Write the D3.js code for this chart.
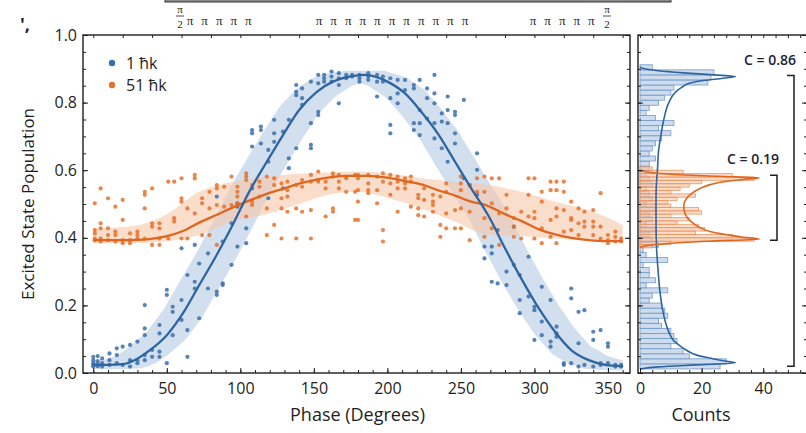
<!DOCTYPE html>
<html>
<head>
<meta charset="utf-8">
<title>Excited state population vs phase</title>
<script src="https://d3js.org/d3.v7.min.js"></script>
<style>
  body { margin: 0; background: #fff; }
  svg { display: block; font-family: "Open Sans", sans-serif; }
</style>
</head>
<body>
<div id="chart"></div>
<script>
// ---- data ----
// scatter: [phase (deg), [populations at that phase]]
var blueCols = [
  [0,[.048,.038,.029,.024,.019]], [3,[.05,.035,.025,.02]], [6,[.043,.029,.019]],
  [11,[.058,.038,.024]], [16,[.073,.053,.029]], [20,[.078,.024]], [25,[.083,.038,.019]],
  [30,[.093,.038,.029]], [35,[.201,.132,.112,.053,.038]], [40,[.068,.048]],
  [45,[.142,.117,.063,.048]], [50,[.246,.231,.029]], [54,[.196,.181,.112]],
  [60,[.216,.157,.369]], [64,[.29,.127,.048]], [69,[.379,.27,.25]], [72,[.324,.162]],
  [78,[.354,.25]], [84,[.522,.241,.231]], [88,[.389,.265,.26]], [94,[.443,.32]],
  [98,[.502,.492,.374]], [104,[.428,.384]], [108,[.709,.719,.67,.546]],
  [114,[.729,.719,.679]], [119,[.66,.625,.517]], [123,[.749,.709,.684]],
  [129,[.714,.546]], [133,[.749,.635,.606]], [138,[.852,.832,.822,.665]],
  [142,[.842,.813,.793]], [148,[.862,.739,.675,.665]], [153,[.882,.857,.773,.763]],
  [157,[.882,.872,.862]], [162,[.892,.877,.862]], [167,[.887,.872,.852,.798]],
  [172,[.882,.872]], [176,[.882,.877]], [181,[.882,.872,.862]], [187,[.887,.877,.867]],
  [193,[.882,.862,.818]], [197,[.877,.862]], [202,[.872,.813,.734,.709]],
  [207,[.867,.827,.798]], [212,[.867,.837]], [218,[.852,.842,.739,.719]],
  [222,[.867,.778,.739,.704]], [227,[.842,.813,.753]], [232,[.882,.827,.798,.739,.694]],
  [237,[.768,.744,.665]], [241,[.818,.778,.739,.625]], [246,[.773,.763,.709,.679]],
  [252,[.808,.576]], [256,[.556]], [261,[.65,.601,.527]], [266,[.339,.374]],
  [271,[.374,.354,.27]], [275,[.265,.423]], [281,[.3,.26]], [286,[.433,.32]],
  [290,[.29,.216,.177]], [296,[.344,.226]], [300,[.196,.186,.098]],
  [305,[.255,.152,.112]], [311,[.216,.093,.078]], [315,[.137,.117,.107]],
  [320,[.029,.024]], [325,[.25,.221,.029]], [330,[.181,.088,.019]], [334,[.186,.024]],
  [340,[.122,.098,.019]], [345,[.127,.029,.024]], [350,[.088,.078,.029]],
  [355,[.024,.019]], [359,[.019,.024]]
];
var orangeCols = [
  [1,[.502,.423,.413,.398,.393]], [5,[.546,.443,.428,.398,.389]], [10,[.517,.428,.408,.393]],
  [15,[.492,.418,.408,.389]], [20,[.512,.453,.393,.384]], [25,[.413,.393,.384]],
  [30,[.418,.408,.398]], [35,[.536,.527,.487,.398]], [40,[.546,.443,.433,.379]],
  [45,[.443,.428,.398,.379]], [51,[.566,.398]], [55,[.566,.458,.448]],
  [60,[.576,.517,.507,.398]], [64,[.487,.398]], [69,[.586,.576,.472]],
  [74,[.517,.502,.408]], [79,[.536,.487,.408]], [84,[.556,.546,.497,.379]],
  [89,[.551,.492]], [94,[.581,.497]], [98,[.551,.536,.522,.502]],
  [104,[.591,.581,.571,.463]], [108,[.556,.507,.497]], [113,[.566,.551,.522]],
  [118,[.581,.487,.408]], [123,[.576,.556,.438]], [128,[.561,.517,.487,.398]],
  [132,[.566,.541,.522,.477]], [138,[.556,.487,.398]], [142,[.571,.551,.477]],
  [148,[.586,.566,.482,.398]], [153,[.596,.571,.566]], [158,[.566,.546,.463]],
  [163,[.591,.581,.487,.477]], [167,[.586,.566,.546]], [172,[.581,.576,.536]],
  [178,[.586,.536,.453]], [180,[.586,.576,.541,.507,.453]], [187,[.586,.561,.541,.532]],
  [193,[.581,.541,.502]], [197,[.591,.566,.423,.389]], [202,[.586,.561,.527]],
  [207,[.581,.566,.546,.477]], [212,[.576,.561,.546]], [216,[.581,.566,.492]],
  [221,[.527,.517,.487,.467]], [225,[.546,.512,.463]], [231,[.527,.507,.497,.477]],
  [236,[.522,.438,.403]], [240,[.561,.536,.472,.428]], [246,[.482,.428]],
  [250,[.581,.561,.541,.487,.428]], [256,[.556,.477,.393]], [261,[.576,.536]],
  [266,[.581,.536,.458,.403]], [271,[.576,.502,.428]], [276,[.576,.472,.379]],
  [281,[.527,.487]], [286,[.458,.433,.403]], [291,[.477,.398]], [296,[.576,.527,.463]],
  [300,[.576,.477,.458,.398]], [305,[.536,.507,.428,.384]], [311,[.566,.541,.453,.403]],
  [315,[.566,.541,.487,.463,.384]], [320,[.566,.536,.482,.418]], [325,[.507,.458,.453,.423]],
  [330,[.487,.443,.408]], [334,[.477,.448,.433]], [340,[.482,.448,.433,.408]],
  [345,[.532,.433,.398]], [350,[.408,.393,.384]], [355,[.418,.403,.389]], [359,[.398,.389]]
];

// fitted curves
var blueFitPhase = [0,10,20,29,38,50,61,72,84,95,106,118,129,140,152,163,174,185,200,212,223,235,246,257,269,280,291,303,314,325,337,348,360];
var blueFitPop = [.025,.024,.026,.04,.066,.112,.177,.26,.35,.44,.536,.625,.704,.778,.832,.862,.877,.882,.862,.827,.773,.704,.625,.546,.463,.369,.28,.191,.122,.068,.038,.024,.02];
var orangeFitPhase = [0,15,30,38,50,61,72,84,95,106,118,129,140,152,163,174,185,200,212,223,235,246,257,266,280,291,303,314,325,337,348,360];
var orangeFitPop = [.393,.393,.394,.396,.405,.42,.445,.468,.49,.51,.53,.545,.56,.572,.58,.583,.583,.578,.568,.558,.54,.525,.507,.498,.47,.45,.425,.41,.4,.393,.39,.39];

// orange uncertainty band
var orangeBandPhase = [0,27,50,72,95,118,140,163,180,201,223,246,269,291,314,337,360];
var orangeBandLo = [.384,.384,.39,.408,.448,.47,.5,.53,.536,.517,.487,.448,.408,.405,.398,.393,.393];
var orangeBandHi = [.428,.435,.47,.536,.566,.58,.59,.594,.596,.59,.576,.566,.556,.536,.507,.482,.438];
var bluePhaseErr = 13; // deg, half width of blue band

// histograms
var blueBinStart = 0.012, blueBinWidth = 0.015;
var blueCounts = [26,28,16,14,10,12,11,10,7,6,9,8,7,3,4,9,2,5,3,3,1,9,2,1,
  6,4,3,5,2,4,3,5,2,4,3,2,4,3,2,3,
  3,5,3,4,5,7,10,6,11,5,2,3,6,8,10,11,22,23,24,4];
var orangeBinStart = 0.37, orangeBinWidth = 0.01;
var orangeCounts = [4,10,37,30,18,21,19,12,16,10,20,19,10,9,12,18,10,13,16,20,37,30,14,4];

var blueHistFitPop = [.012,.018,.024,.03,.036,.043,.05,.058,.068,.079,.095,.118,.14,.167,.2,.265,.3,.364,.45,.52,.556,.606,.655,.704,.753,.803,.832,.845,.857,.866,.872,.877,.882,.888,.894,.9,.905];
var blueHistFitCount = [0,6,18,31,27,23.4,19.5,17,15,13.2,11,9.5,8.6,7.8,7.1,6.2,5.9,5.4,5.2,5.2,5.3,5.7,6,6.8,7.8,9.5,11.6,13.5,16,21,27,31,24,14,6,1.5,0];
var orangeHistFitPop = [.372,.378,.384,.39,.396,.402,.408,.418,.43,.447,.46,.472,.49,.502,.515,.531,.548,.558,.566,.572,.577,.582,.588,.594,.6];
var orangeHistFitCount = [0,3,10,22,38.7,33,29,23,19.5,16.7,15.3,14.6,14.2,14.3,15,16.7,20,23,27,33,38.7,25,10,3,0];

var seriesNames = ["1 \u0127k", "51 \u0127k"];
var contrastLabels = ["C = 0.86", "C = 0.19"];
var contrastRanges = [[.02, .88], [.393, .585]];

var xTicks = [0,50,100,150,200,250,300,350];
var yTicks = [0,.2,.4,.6,.8,1];
var countTicks = [0,20,40];

// ---- layout ----
var W = 806, H = 433;
var blue = "#3a6fa9", orange = "#e5712b";
var ink = "#1e1e1e";

var svg = d3.select("#chart").append("svg").attr("width", W).attr("height", H);

var x = d3.scaleLinear().domain([-7, 365]).range([83, 630]);
var y = d3.scaleLinear().domain([0, 1]).range([373, 35]);
var xc = d3.scaleLinear().domain([0, 54.2]).range([640, 807]);

function interp(xs, ys, p) {
  p = Math.max(xs[0], Math.min(xs[xs.length - 1], p));
  var i = d3.bisectRight(xs, p) - 1;
  if (i >= xs.length - 1) return ys[ys.length - 1];
  var t = (p - xs[i]) / (xs[i + 1] - xs[i]);
  return ys[i] + t * (ys[i + 1] - ys[i]);
}

// pulse sequence strip at the top (cut off)
svg.append("rect").attr("x", 165).attr("y", -3).attr("width", 506).attr("height", 5)
  .attr("fill", "#8c8c8c").attr("stroke", "#333").attr("stroke-width", 1);
var pulseGroups = [
  {x0: 190, n: 5, frac: 180},
  {x0: 319, n: 11},
  {x0: 533, n: 5, frac: 607}
];
var pg = svg.append("g").attr("font-family", "Liberation Serif, serif").attr("fill", ink)
  .attr("text-anchor", "middle");
pulseGroups.forEach(function (g) {
  d3.range(g.n).forEach(function (i) {
    pg.append("text").attr("x", g.x0 + i * 14.6).attr("y", 25).attr("font-size", 13).text("\u03c0");
  });
  if (g.frac) {
    pg.append("text").attr("x", g.frac).attr("y", 13).attr("font-size", 11).text("\u03c0");
    pg.append("line").attr("x1", g.frac - 4).attr("x2", g.frac + 4).attr("y1", 16).attr("y2", 16)
      .attr("stroke", ink).attr("stroke-width", 0.8);
    pg.append("text").attr("x", g.frac).attr("y", 28).attr("font-size", 11).text("2");
  }
});
svg.append("text").attr("x", 20).attr("y", 31).attr("font-size", 18).attr("font-weight", "bold")
  .attr("fill", ink).text("',");

// ---- main panel ----
var main = svg.append("g");

// blue band: curve shifted by +-bluePhaseErr
var blueBand = d3.range(0, 361, 2).map(function (p) {
  var v = d3.range(-bluePhaseErr, bluePhaseErr + 1).map(function (d) {
    return interp(blueFitPhase, blueFitPop, Math.max(0, Math.min(360, p + d)));
  });
  return {p: p, lo: d3.min(v) - 0.012, hi: d3.max(v) + 0.012};
});
main.append("path").datum(blueBand)
  .attr("d", d3.area().x(d => x(d.p)).y0(d => y(d.lo)).y1(d => y(d.hi)).curve(d3.curveMonotoneX))
  .attr("fill", "#c3d4e8").attr("opacity", 0.75);

var oBand = orangeBandPhase.map((p, i) => ({p: p, lo: orangeBandLo[i], hi: orangeBandHi[i]}));
main.append("path").datum(oBand)
  .attr("d", d3.area().x(d => x(d.p)).y0(d => y(d.lo)).y1(d => y(d.hi)).curve(d3.curveMonotoneX))
  .attr("fill", "#f6c8a9").attr("opacity", 0.6);

function flat(cols) {
  var out = [];
  cols.forEach(c => c[1].forEach(v => out.push([c[0], v])));
  return out;
}
main.append("g").selectAll("circle").data(flat(blueCols)).join("circle")
  .attr("cx", d => x(d[0])).attr("cy", d => y(d[1])).attr("r", 2.1)
  .attr("fill", blue).attr("opacity", 0.85);
main.append("g").selectAll("circle").data(flat(orangeCols)).join("circle")
  .attr("cx", d => x(d[0])).attr("cy", d => y(d[1])).attr("r", 2.1)
  .attr("fill", orange).attr("opacity", 0.85);

var fitLine = d3.line().x(d => x(d[0])).y(d => y(d[1])).curve(d3.curveMonotoneX);
main.append("path").datum(orangeFitPhase.map((p, i) => [p, orangeFitPop[i]]))
  .attr("d", fitLine).attr("fill", "none").attr("stroke", "#e0661f").attr("stroke-width", 2.3);
main.append("path").datum(blueFitPhase.map((p, i) => [p, blueFitPop[i]]))
  .attr("d", fitLine).attr("fill", "none").attr("stroke", "#2d65a2").attr("stroke-width", 2.3);

// legend
var leg = main.append("g");
[blue, orange].forEach(function (c, i) {
  leg.append("circle").attr("cx", 112).attr("cy", 63 + i * 22).attr("r", 3.2).attr("fill", c);
  leg.append("text").attr("x", 126).attr("y", 69 + i * 22).attr("font-size", 16)
    .attr("fill", ink).text(seriesNames[i]);
});

// ---- histogram panel ----
var hist = svg.append("g");
function bars(counts, start, w, fill, stroke, op) {
  hist.append("g").selectAll("rect").data(counts).join("rect")
    .attr("x", xc(0))
    .attr("y", (c, i) => y(start + (i + 1) * w))
    .attr("width", c => xc(c) - xc(0))
    .attr("height", (c, i) => y(start + i * w) - y(start + (i + 1) * w))
    .attr("fill", fill).attr("fill-opacity", op)
    .attr("stroke", stroke).attr("stroke-width", 0.9).attr("stroke-opacity", 0.8);
}
bars(blueCounts, blueBinStart, blueBinWidth, "#c6d6ea", "#6a94c4", 0.85);
bars(orangeCounts, orangeBinStart, orangeBinWidth, "#f7c7a6", "#ec8c55", 0.6);

var histLine = d3.line().x(d => xc(d[1])).y(d => y(d[0])).curve(d3.curveMonotoneY);
hist.append("path").datum(blueHistFitPop.map((v, i) => [v, blueHistFitCount[i]]))
  .attr("d", histLine).attr("fill", "none").attr("stroke", "#2d65a2").attr("stroke-width", 1.6);
hist.append("path").datum(orangeHistFitPop.map((v, i) => [v, orangeHistFitCount[i]]))
  .attr("d", histLine).attr("fill", "none").attr("stroke", "#e0661f").attr("stroke-width", 1.6);

// contrast brackets
var bracketX = [794, 777];
contrastRanges.forEach(function (r, i) {
  var bx = bracketX[i];
  hist.append("path")
    .attr("d", "M" + (bx - 7) + "," + y(r[1]) + "H" + bx + "V" + y(r[0]) + "H" + (bx - 7))
    .attr("fill", "none").attr("stroke", ink).attr("stroke-width", 1.5);
  hist.append("text").attr("x", bx + 2).attr("y", y(r[1]) - 11)
    .attr("text-anchor", "end").attr("font-size", 14).attr("font-weight", 600)
    .attr("fill", "#1c2238").text(contrastLabels[i]);
});

// ---- frames and ticks ----
function style(g) {
  g.select(".domain").remove();
  g.selectAll("line").attr("stroke", ink).attr("stroke-width", 1);
  g.selectAll("text").attr("font-size", 16).attr("fill", ink)
    .attr("font-family", "Open Sans, sans-serif");
}
function addAxis(axis, tx, ty) {
  svg.append("g").attr("transform", "translate(" + tx + "," + ty + ")").call(axis).call(style);
}
var none = () => "";
var yMinor = d3.range(0, 1.001, 0.05);

// main panel
addAxis(d3.axisBottom(x).tickValues(d3.range(0, 361, 10)).tickSize(-3).tickFormat(none), 0, 373);
addAxis(d3.axisBottom(x).tickValues(xTicks).tickSize(-5).tickPadding(10), 0, 373);
addAxis(d3.axisTop(x).tickValues(d3.range(0, 361, 20)).tickSize(-3).tickFormat(none), 0, 35);
addAxis(d3.axisLeft(y).tickValues(yMinor).tickSize(-3).tickFormat(none), 83, 0);
addAxis(d3.axisLeft(y).tickValues(yTicks).tickSize(-5).tickPadding(6).tickFormat(d3.format(".1f")), 83, 0);
addAxis(d3.axisRight(y).tickValues(yMinor).tickSize(-3).tickFormat(none), 630, 0);
addAxis(d3.axisRight(y).tickValues(yTicks).tickSize(-5).tickFormat(none), 630, 0);

// histogram panel
addAxis(d3.axisBottom(xc).tickValues(d3.range(0, 53, 4)).tickSize(-3).tickFormat(none), 0, 373);
addAxis(d3.axisBottom(xc).tickValues(countTicks).tickSize(-5).tickPadding(10), 0, 373);
addAxis(d3.axisTop(xc).tickValues(d3.range(0, 53, 4)).tickSize(-3).tickFormat(none), 0, 35);
addAxis(d3.axisLeft(y).tickValues(yMinor).tickSize(-3).tickFormat(none), 638, 0);
addAxis(d3.axisLeft(y).tickValues(yTicks).tickSize(-5).tickFormat(none), 638, 0);
addAxis(d3.axisRight(y).tickValues(yMinor).tickSize(-3).tickFormat(none), 807, 0);
addAxis(d3.axisRight(y).tickValues(yTicks).tickSize(-5).tickFormat(none), 807, 0);

svg.append("rect").attr("x", 83).attr("y", 35).attr("width", 630 - 83).attr("height", 373 - 35)
  .attr("fill", "none").attr("stroke", ink).attr("stroke-width", 1.4);
svg.append("rect").attr("x", 638).attr("y", 35).attr("width", 807 - 638).attr("height", 373 - 35)
  .attr("fill", "none").attr("stroke", ink).attr("stroke-width", 1.4);

// axis titles
svg.append("text").attr("x", (83 + 630) / 2 + 1).attr("y", 421).attr("text-anchor", "middle")
  .attr("font-size", 18).attr("fill", ink).text("Phase (Degrees)");
svg.append("text").attr("x", 701).attr("y", 421).attr("text-anchor", "middle")
  .attr("font-size", 18).attr("fill", ink).text("Counts");
svg.append("text").attr("transform", "translate(34,204) rotate(-90)").attr("text-anchor", "middle")
  .attr("font-size", 17).attr("fill", ink).text("Excited State Population");
</script>
</body>
</html>
